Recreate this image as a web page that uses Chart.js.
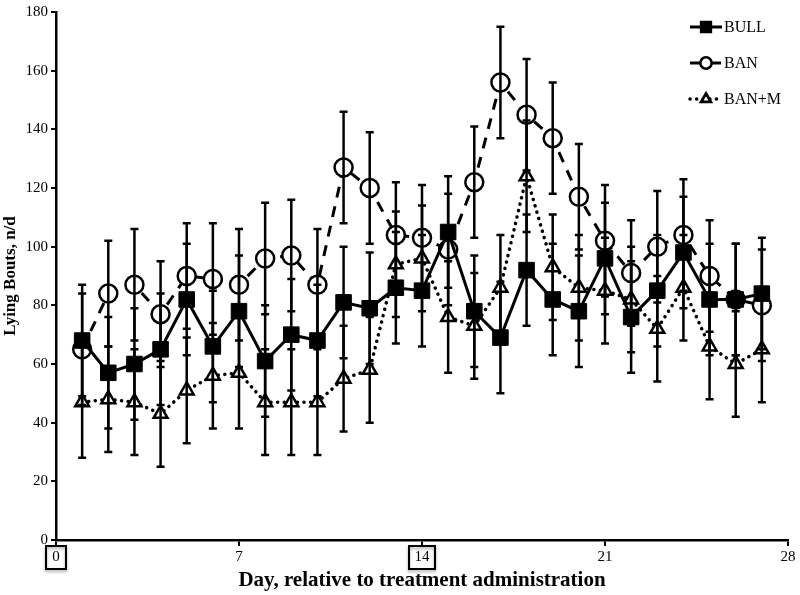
<!DOCTYPE html>
<html>
<head>
<meta charset="utf-8">
<script src="https://cdn.jsdelivr.net/npm/chart.js@4"></script>
<style>
  html, body { margin: 0; padding: 0; background: #fff; }
</style>
</head>
<body>
<canvas id="myChart" width="800" height="595"></canvas>
<script>
// days after arrival, one point per day
const days = [1,2,3,4,5,6,7,8,9,10,11,12,13,14,15,16,17,18,19,20,21,22,23,24,25,26,27];

const bull    = [68,57,60,65,82,66,78,61,70,68,81,79,86,85,105,78,69,92,82,78,96,76,85,98,82,82,84];
const bullErr = [19,19,19,19,19,19,19,19,19,19,19,19,19,19,19,19,19,19,19,19,19,19,19,19,19,19,19];

const ban     = [65,84,87,77,90,89,87,96,97,87,127,120,104,103,99,122,156,145,137,117,102,91,100,104,90,82,80];
const banErr  = [19,18,19,18,18,19,19,19,19,19,19,19,18,18,19,19,19,19,19,18,19,18,19,19,19,19,19];

const banm    = [47,48,47,43,51,56,57,47,47,47,55,58,94,96,76,73,86,124,93,86,85,82,72,86,66,60,65];
const banmErr = [19,18,18,18,18,18,19,18,18,18,18,18,18,18,19,18,18,19,18,18,18,18,18,18,18,18,18];

const seriesNames = ['BULL', 'BAN', 'BAN+M'];
const xTicks = [0, 7, 14, 21, 28];
const boxedTicks = [0, 14];

const ctx = document.getElementById('myChart');
const serif = "'Liberation Serif', 'Times New Roman', serif";

function pts(vals) {
  return days.map((d, i) => ({x: d, y: vals[i]}));
}

const errs = [bullErr, banErr, banmErr];
const means = [bull, ban, banm];

// error bars with caps, drawn over the lines
const errorBars = {
  id: 'errorBars',
  afterDatasetsDraw(chart) {
    const c = chart.ctx, xs = chart.scales.x, ys = chart.scales.y;
    c.save();
    c.strokeStyle = '#000';
    c.lineWidth = 2.5;
    for (let s = 0; s < means.length; s++) {
      for (let i = 0; i < days.length; i++) {
        const x = xs.getPixelForValue(days[i]);
        const y1 = ys.getPixelForValue(means[s][i] + errs[s][i]);
        const y2 = ys.getPixelForValue(means[s][i] - errs[s][i]);
        c.beginPath();
        c.moveTo(x, y1); c.lineTo(x, y2);
        c.moveTo(x - 4, y1); c.lineTo(x + 4, y1);
        c.moveTo(x - 4, y2); c.lineTo(x + 4, y2);
        c.stroke();
      }
    }
    c.restore();
  }
};

// legend: line sample + marker + name
const customLegend = {
  id: 'customLegend',
  afterDraw(chart) {
    const c = chart.ctx;
    c.save();
    chart.data.datasets.forEach((ds, k) => {
      const y = 27 + k * 36;
      c.strokeStyle = '#000';
      c.lineWidth = ds.borderWidth;
      c.lineCap = ds.borderCapStyle || 'butt';
      c.setLineDash(ds.borderDash || []);
      c.beginPath();
      c.moveTo(690, y); c.lineTo(722, y);
      c.stroke();
      c.setLineDash([]);
      Chart.helpers.drawPoint(c, {
        pointStyle: ds.pointStyle, radius: ds.pointRadius * 0.6,
        borderWidth: 2, rotation: 0
      }, 706, y);
      c.fillStyle = ds.pointBackgroundColor;
      c.strokeStyle = '#000';
      c.lineWidth = 2;
      c.fill(); c.stroke();
      c.fillStyle = '#000';
      c.font = '16px ' + serif;
      c.textBaseline = 'middle';
      c.textAlign = 'left';
      c.fillText(seriesNames[k], 724, y + 1);
    });
    c.restore();
  }
};

// boxes round some day labels
const tickBoxes = {
  id: 'tickBoxes',
  afterDraw(chart) {
    const c = chart.ctx, xs = chart.scales.x;
    c.save();
    c.strokeStyle = '#000';
    c.lineWidth = 2;
    c.shadowColor = 'rgba(0,0,0,0.35)';
    c.shadowBlur = 3;
    c.shadowOffsetY = 2;
    boxedTicks.forEach(t => {
      const x = xs.getPixelForValue(t);
      const w = t < 10 ? 20 : 26;
      c.strokeRect(x - w / 2, 546, w, 23);
    });
    c.restore();
  }
};

new Chart(ctx, {
  type: 'line',
  data: {
    datasets: [{
      label: seriesNames[0],
      data: pts(bull),
      borderColor: '#000',
      borderWidth: 3,
      pointStyle: 'rect',
      pointRadius: 11,
      pointBackgroundColor: '#000',
      pointBorderColor: '#000',
      pointBorderWidth: 1,
      tension: 0
    }, {
      label: seriesNames[1],
      data: pts(ban),
      borderColor: '#000',
      borderWidth: 3,
      borderDash: [11, 9],
      pointStyle: 'circle',
      pointRadius: 9,
      pointBackgroundColor: '#fff',
      pointBorderColor: '#000',
      pointBorderWidth: 2.5,
      tension: 0
    }, {
      label: seriesNames[2],
      data: pts(banm),
      borderColor: '#000',
      borderWidth: 3.5,
      borderDash: [0.1, 6.5],
      borderCapStyle: 'round',
      pointStyle: 'triangle',
      pointRadius: 8,
      pointBackgroundColor: '#fff',
      pointBorderColor: '#000',
      pointBorderWidth: 2.5,
      tension: 0
    }]
  },
  options: {
    responsive: false,
    animation: false,
    devicePixelRatio: 1,
    layout: { padding: { top: 6, right: 6, left: 0, bottom: 0 } },
    plugins: { legend: { display: false }, tooltip: { enabled: false } },
    scales: {
      x: {
        type: 'linear',
        min: 0, max: 28,
        afterBuildTicks: s => { s.ticks = xTicks.map(v => ({value: v})); },
        afterFit: s => { s.height = 55; },
        grid: { display: true, drawOnChartArea: false, drawTicks: true, tickLength: 6, color: '#000', lineWidth: 2 },
        border: { display: true, color: '#000', width: 2.5 },
        ticks: { color: '#000', font: { family: serif, size: 15 }, padding: 2, maxRotation: 0 },
        title: {
          display: true,
          text: 'Day, relative to treatment administration',
          color: '#000',
          font: { family: serif, size: 21, weight: 'bold' },
          padding: { top: 0, bottom: 2 }
        }
      },
      y: {
        min: 0, max: 180,
        afterFit: s => { s.width = 56; },
        grid: { display: true, drawOnChartArea: false, drawTicks: true, tickLength: 5, color: '#000', lineWidth: 2 },
        border: { display: true, color: '#000', width: 2.5 },
        ticks: { stepSize: 20, color: '#000', font: { family: serif, size: 15 }, padding: 3 },
        title: {
          display: true,
          text: 'Lying Bouts, n/d',
          color: '#000',
          font: { family: serif, size: 17, weight: 'bold' },
          padding: { top: 0, bottom: 2 }
        }
      }
    }
  },
  plugins: [errorBars, customLegend, tickBoxes]
});
</script>
</body>
</html>
